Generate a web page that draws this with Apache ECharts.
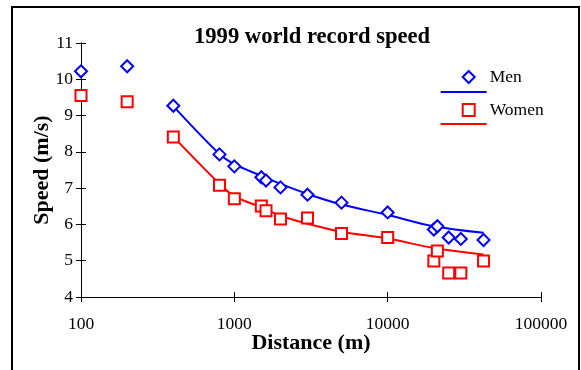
<!DOCTYPE html>
<html>
<head>
<meta charset="utf-8">
<script src="https://cdn.jsdelivr.net/npm/echarts@6/dist/echarts.min.js"></script>
<style>
html,body{margin:0;padding:0;background:#fff;}
#chart{width:581px;height:370px;}
</style>
</head>
<body>
<div id="chart"></div>
<script>
// Distances (m) of record events
const distances = [100, 200, 400, 800, 1000, 1500, 1609, 2000, 3000, 5000, 10000, 20000, 21097, 25000, 30000, 42195];
// 1999 world record speeds (m/s)
const menSpeed   = [10.22, 10.36, 9.27, 7.93, 7.60, 7.30, 7.21, 7.02, 6.82, 6.60, 6.33, 5.86, 5.95, 5.64, 5.60, 5.57];
const womenSpeed = [9.55, 9.38, 8.41, 7.08, 6.71, 6.51, 6.38, 6.15, 6.18, 5.75, 5.64, 4.99, 5.27, 4.66, 4.66, 4.99];
// Trend lines
const trendDist  = [400, 800, 1000, 1500, 2000, 3000, 5000, 10000, 20000, 42195];
const menTrend   = [9.26, 7.94, 7.66, 7.34, 7.12, 6.84, 6.55, 6.26, 5.95, 5.77];
const womenTrend = [8.42, 7.12, 6.78, 6.47, 6.24, 6.02, 5.80, 5.61, 5.35, 5.17];
// Axis ranges / ticks
const xMin = 100, xMax = 100000;
const yMin = 4, yMax = 11, yStep = 1;

const FONT = "'Liberation Serif','Times New Roman',serif";
const BLUE = '#0000FF', RED = '#FF0000';

const pairs = (xs, ys) => xs.map((x, i) => [x, ys[i]]);

const chart = echarts.init(document.getElementById('chart'), null, {renderer: 'canvas'});
const gridRect = {left: 81, right: 40, top: 43, bottom: 73};

const option = {
  backgroundColor: '#fff',
  animation: false,
  title: {
    text: '1999 world record speed',
    left: 189, top: 21,
    textStyle: {fontFamily: FONT, fontWeight: 'bold', fontSize: 22.6, color: '#000'}
  },
  legend: {
    orient: 'vertical',
    left: 456.7, top: 63,
    itemWidth: 12, itemHeight: 12, itemGap: 15,
    data: ['Men', 'Women'],
    textStyle: {fontFamily: FONT, fontSize: 17.5, color: '#000', lineHeight: 18, padding: [0, 0, 0, 10]}
  },
  grid: [
    Object.assign({}, gridRect),
    Object.assign({}, gridRect)
  ],
  xAxis: [
    {
      type: 'log', logBase: 10, min: xMin, max: xMax, gridIndex: 0,
      name: 'Distance (m)', nameLocation: 'middle', nameGap: 35, nameMoveOverlap: false,
      nameTextStyle: {fontFamily: FONT, fontWeight: 'bold', fontSize: 22, color: '#000'},
      axisLine: {show: true, lineStyle: {color: '#000', width: 1}},
      axisTick: {show: true, inside: false, length: 5, lineStyle: {color: '#000'}},
      minorTick: {show: false},
      splitLine: {show: false},
      axisLabel: {fontFamily: FONT, fontSize: 17.5, color: '#000', margin: 18,
                  formatter: v => String(Math.round(v))}
    },
    {
      type: 'log', logBase: 10, min: xMin, max: xMax, gridIndex: 1,
      axisLine: {show: true, lineStyle: {color: '#000', width: 1}},
      axisTick: {show: true, inside: true, length: 5, lineStyle: {color: '#000'}},
      splitLine: {show: false},
      axisLabel: {show: false}
    }
  ],
  yAxis: [
    {
      type: 'value', min: yMin, max: yMax, interval: yStep, gridIndex: 0,
      name: 'Speed (m/s)', nameLocation: 'middle', nameGap: 28, nameRotate: 90, nameMoveOverlap: false,
      nameTextStyle: {fontFamily: FONT, fontWeight: 'bold', fontSize: 22, color: '#000'},
      axisLine: {show: true, lineStyle: {color: '#000', width: 1}},
      axisTick: {show: true, inside: false, length: 5, lineStyle: {color: '#000'}},
      splitLine: {show: false},
      axisLabel: {fontFamily: FONT, fontSize: 17.5, color: '#000', margin: 8}
    },
    {
      type: 'value', min: yMin, max: yMax, interval: yStep, gridIndex: 1,
      axisLine: {show: true, lineStyle: {color: '#000', width: 1}},
      axisTick: {show: true, inside: true, length: 5, lineStyle: {color: '#000'}},
      splitLine: {show: false},
      axisLabel: {show: false}
    }
  ],
  series: [
    {
      name: 'Men trend', type: 'line', xAxisIndex: 0, yAxisIndex: 0,
      data: pairs(trendDist, menTrend), smooth: 0.35, showSymbol: false, symbol: 'none',
      lineStyle: {color: BLUE, width: 2}, z: 2
    },
    {
      name: 'Women trend', type: 'line', xAxisIndex: 0, yAxisIndex: 0,
      data: pairs(trendDist, womenTrend), smooth: 0.35, showSymbol: false, symbol: 'none',
      lineStyle: {color: RED, width: 2}, z: 2
    },
    {
      name: 'Men', type: 'scatter', xAxisIndex: 0, yAxisIndex: 0,
      data: pairs(distances, menSpeed),
      symbol: 'diamond', symbolSize: [12, 12],
      itemStyle: {color: '#fff', borderColor: BLUE, borderWidth: 2, opacity: 1}, z: 3
    },
    {
      name: 'Women', type: 'scatter', xAxisIndex: 0, yAxisIndex: 0,
      data: pairs(distances, womenSpeed),
      symbol: 'rect', symbolSize: [11, 11],
      itemStyle: {color: '#fff', borderColor: RED, borderWidth: 2, opacity: 1}, z: 3
    }
  ],
  graphic: [
    {type: 'rect', shape: {x: 12, y: 7, width: 567, height: 400},
     style: {fill: 'none', stroke: '#000', lineWidth: 2}, silent: true, z: 100},
    {type: 'line', shape: {x1: 440.7, y1: 92, x2: 486.7, y2: 92},
     style: {stroke: BLUE, lineWidth: 2}, silent: true},
    {type: 'line', shape: {x1: 440.7, y1: 124, x2: 486.7, y2: 124},
     style: {stroke: RED, lineWidth: 2}, silent: true}
  ]
};
chart.setOption(option);
</script>
</body>
</html>
